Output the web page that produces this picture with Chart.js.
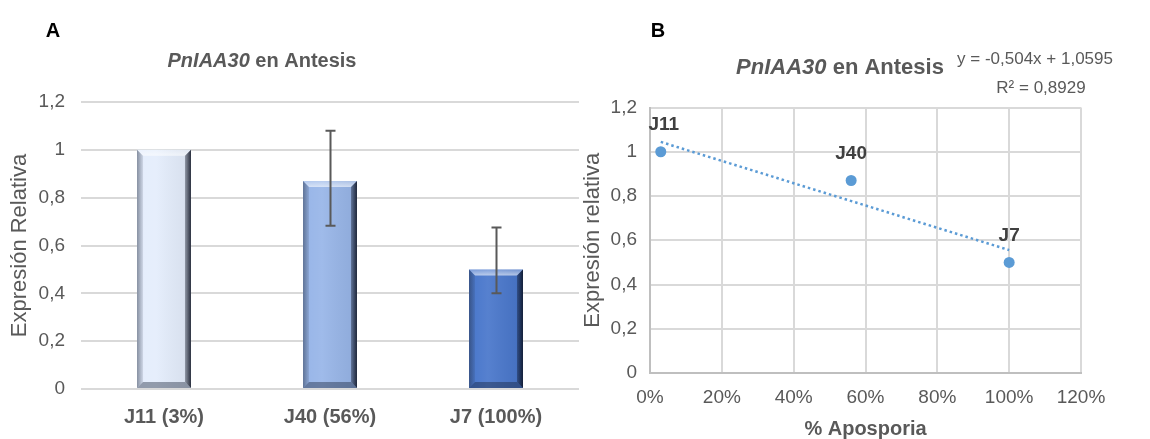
<!DOCTYPE html>
<html>
<head>
<meta charset="utf-8">
<script src="https://cdn.jsdelivr.net/npm/chart.js@4.4.0/dist/chart.umd.min.js"></script>
<style>
  body { margin: 0; background: #fff; }
  .box { position: absolute; top: 0; height: 439px; }
  #boxA { left: 0; width: 590px; }
  #boxB { left: 560px; width: 590px; }
</style>
</head>
<body>
<div class="box" id="boxA"><canvas id="chartA"></canvas></div>
<div class="box" id="boxB"><canvas id="chartB"></canvas></div>
<script>
// Datos: expresión relativa de PnIAA30 en antesis
const genotipos = ['J11 (3%)', 'J40 (56%)', 'J7 (100%)'];
const etiquetas = ['J11', 'J40', 'J7'];
const aposporia = [0.03, 0.56, 1.0];
const expresion = [1.0, 0.87, 0.5];
const errSup = [null, 1.08, 0.675];
const errInf = [null, 0.683, 0.40];
const coloresBarra = ['#E4EDFC', '#97B5E8', '#4876CB'];
const ticksY = [0, 0.2, 0.4, 0.6, 0.8, 1, 1.2];
const ticksX = [0, 0.2, 0.4, 0.6, 0.8, 1, 1.2];
// línea de tendencia
const pendiente = -0.504;
const intercepto = 1.0595;
const r2 = 0.8929;

const FONT = "'Liberation Sans', Arial, sans-serif";
const GRIS = '#595959';
const coma = v => String(v).replace('.', ',');

// título con la parte del gen en cursiva
function titulo(ctx, cx, cy, size) {
  const a = 'PnIAA30', b = ' en Antesis';
  ctx.save();
  ctx.fillStyle = GRIS;
  ctx.textBaseline = 'middle';
  ctx.font = `italic bold ${size}px ${FONT}`;
  const wa = ctx.measureText(a).width;
  ctx.font = `bold ${size}px ${FONT}`;
  const wb = ctx.measureText(b).width;
  let x = cx - (wa + wb) / 2;
  ctx.textAlign = 'left';
  ctx.font = `italic bold ${size}px ${FONT}`;
  ctx.fillText(a, x, cy);
  ctx.font = `bold ${size}px ${FONT}`;
  ctx.fillText(b, x + wa, cy);
  ctx.restore();
}

function letra(ctx, txt, x, y) {
  ctx.save();
  ctx.fillStyle = '#000';
  ctx.font = `bold 20px ${FONT}`;
  ctx.textAlign = 'center';
  ctx.textBaseline = 'middle';
  ctx.fillText(txt, x, y);
  ctx.restore();
}

// barras con bisel
const bisel = {
  id: 'bisel',
  afterDatasetsDraw(chart) {
    const ctx = chart.ctx;
    chart.getDatasetMeta(0).data.forEach(bar => {
      const {x, y, base, width} = bar.getProps(['x', 'y', 'base', 'width'], true);
      const l = x - width / 2, r = x + width / 2, t = y, b = base, d = 6;
      const poly = (pts, fill) => {
        ctx.beginPath();
        ctx.moveTo(pts[0][0], pts[0][1]);
        for (let i = 1; i < pts.length; i++) ctx.lineTo(pts[i][0], pts[i][1]);
        ctx.closePath();
        ctx.fillStyle = fill;
        ctx.fill();
      };
      ctx.save();
      // cuerpo: leve sombreado horizontal
      let g = ctx.createLinearGradient(l, 0, r, 0);
      g.addColorStop(0, 'rgba(255,255,255,0.0)');
      g.addColorStop(0.35, 'rgba(255,255,255,0.08)');
      g.addColorStop(1, 'rgba(0,0,0,0.06)');
      poly([[l, t], [r, t], [r, b], [l, b]], g);
      // arriba
      g = ctx.createLinearGradient(0, t, 0, t + d);
      g.addColorStop(0, 'rgba(255,255,255,0.25)');
      g.addColorStop(1, 'rgba(255,255,255,0.6)');
      poly([[l, t], [r, t], [r - d, t + d], [l + d, t + d]], g);
      // izquierda
      g = ctx.createLinearGradient(l, 0, l + d, 0);
      g.addColorStop(0, 'rgba(40,50,70,0.5)');
      g.addColorStop(1, 'rgba(40,50,70,0.12)');
      poly([[l, t], [l + d, t + d], [l + d, b - d], [l, b]], g);
      // derecha
      g = ctx.createLinearGradient(r - d, 0, r, 0);
      g.addColorStop(0, 'rgba(10,15,30,0.35)');
      g.addColorStop(1, 'rgba(10,15,30,0.85)');
      poly([[r, t], [r - d, t + d], [r - d, b - d], [r, b]], g);
      // abajo
      poly([[l, b], [l + d, b - d], [r - d, b - d], [r, b]], 'rgba(20,30,50,0.4)');
      ctx.restore();
    });
  }
};

// barras de error
const errores = {
  id: 'errores',
  afterDatasetsDraw(chart) {
    const ctx = chart.ctx, ys = chart.scales.y;
    ctx.save();
    ctx.strokeStyle = GRIS;
    ctx.lineWidth = 2;
    chart.getDatasetMeta(0).data.forEach((bar, i) => {
      if (errSup[i] == null) return;
      const x = Math.round(bar.x) + 0.5;
      const y1 = ys.getPixelForValue(errSup[i]);
      const y2 = ys.getPixelForValue(errInf[i]);
      ctx.beginPath();
      ctx.moveTo(x, y1); ctx.lineTo(x, y2);
      ctx.moveTo(x - 5, y1); ctx.lineTo(x + 5, y1);
      ctx.moveTo(x - 5, y2); ctx.lineTo(x + 5, y2);
      ctx.stroke();
    });
    ctx.restore();
  }
};

const textosA = {
  id: 'textosA',
  afterDraw(chart) {
    letra(chart.ctx, 'A', 53, 31);
    titulo(chart.ctx, 262, 61, 20);
  }
};

new Chart(document.getElementById('chartA'), {
  type: 'bar',
  data: {
    labels: genotipos,
    datasets: [{
      data: expresion,
      backgroundColor: coloresBarra,
      borderWidth: 0,
      categoryPercentage: 1,
      barPercentage: 0.325
    }]
  },
  options: {
    responsive: true,
    maintainAspectRatio: false,
    animation: false,
    layout: { padding: { top: 102, right: 11, bottom: 0, left: 0 } },
    plugins: { legend: { display: false }, tooltip: { enabled: false } },
    scales: {
      x: {
        grid: { display: false },
        border: { display: false },
        ticks: { color: GRIS, font: { family: FONT, size: 20, weight: 'bold' }, padding: 8, maxRotation: 0 },
        afterFit: s => { s.height = 50; }
      },
      y: {
        min: 0, max: 1.2,
        afterBuildTicks: s => { s.ticks = ticksY.map(v => ({ value: v })); },
        grid: { color: '#D9D9D9', lineWidth: 2, drawTicks: false },
        border: { display: false },
        ticks: { color: GRIS, font: { family: FONT, size: 19 }, padding: 16, callback: v => coma(v) },
        title: { display: true, text: 'Expresión Relativa', color: GRIS, font: { family: FONT, size: 22 }, padding: { top: 7 } },
        afterFit: s => { s.width = 81; }
      }
    }
  },
  plugins: [bisel, errores, textosA]
});

// etiquetas de los puntos y ecuación de la tendencia
const textosB = {
  id: 'textosB',
  afterDatasetsDraw(chart) {
    const ctx = chart.ctx;
    ctx.save();
    ctx.fillStyle = '#404040';
    ctx.font = `bold 19px ${FONT}`;
    ctx.textAlign = 'center';
    ctx.textBaseline = 'middle';
    chart.getDatasetMeta(0).data.forEach((p, i) => {
      ctx.fillText(etiquetas[i], p.x + (i === 0 ? 3 : 0), p.y - 27);
    });
    ctx.restore();
  },
  afterDraw(chart) {
    const ctx = chart.ctx;
    letra(ctx, 'B', 98, 31);
    titulo(ctx, 280, 68, 22);
    ctx.save();
    ctx.fillStyle = GRIS;
    ctx.font = `17px ${FONT}`;
    ctx.textAlign = 'center';
    ctx.textBaseline = 'middle';
    const eq = 'y = ' + coma(pendiente) + 'x + ' + coma(intercepto);
    ctx.fillText(eq, 475, 59);
    ctx.fillText('R² = ' + coma(r2), 481, 88);
    ctx.restore();
  }
};

const tendencia = [aposporia[0], aposporia[aposporia.length - 1]].map(x => ({ x: x, y: intercepto + pendiente * x }));

new Chart(document.getElementById('chartB'), {
  type: 'scatter',
  data: {
    datasets: [{
      data: aposporia.map((x, i) => ({ x: x, y: expresion[i] })),
      backgroundColor: '#5B9BD5',
      borderWidth: 0,
      pointRadius: 5.5
    }, {
      type: 'line',
      data: tendencia,
      borderColor: '#5B9BD5',
      borderWidth: 2.5,
      borderDash: [2.5, 3],
      pointRadius: 0,
      fill: false
    }]
  },
  options: {
    responsive: true,
    maintainAspectRatio: false,
    animation: false,
    layout: { padding: { top: 107.5, right: 69, bottom: 0, left: 0 } },
    plugins: { legend: { display: false }, tooltip: { enabled: false } },
    scales: {
      x: {
        type: 'linear', min: 0, max: 1.2,
        afterBuildTicks: s => { s.ticks = ticksX.map(v => ({ value: v })); },
        grid: { color: '#D9D9D9', lineWidth: 2, drawTicks: false },
        border: { color: '#BFBFBF', width: 2 },
        ticks: { color: GRIS, font: { family: FONT, size: 19 }, padding: 13, maxRotation: 0, callback: v => Math.round(v * 100) + '%' },
        title: { display: true, text: '% Aposporia', color: GRIS, font: { family: FONT, size: 20, weight: 'bold', lineHeight: 1 }, padding: { top: 0, bottom: 0 } },
        afterFit: s => { s.height = 66; }
      },
      y: {
        min: 0, max: 1.2,
        afterBuildTicks: s => { s.ticks = ticksY.map(v => ({ value: v })); },
        grid: { color: '#D9D9D9', lineWidth: 2, drawTicks: false },
        border: { color: '#BFBFBF', width: 2 },
        ticks: { color: GRIS, font: { family: FONT, size: 19 }, padding: 13, callback: v => coma(v) },
        title: { display: true, text: 'Expresión relativa', color: GRIS, font: { family: FONT, size: 22 }, padding: { top: 20 } },
        afterFit: s => { s.width = 90; }
      }
    }
  },
  plugins: [textosB]
});
</script>
</body>
</html>
